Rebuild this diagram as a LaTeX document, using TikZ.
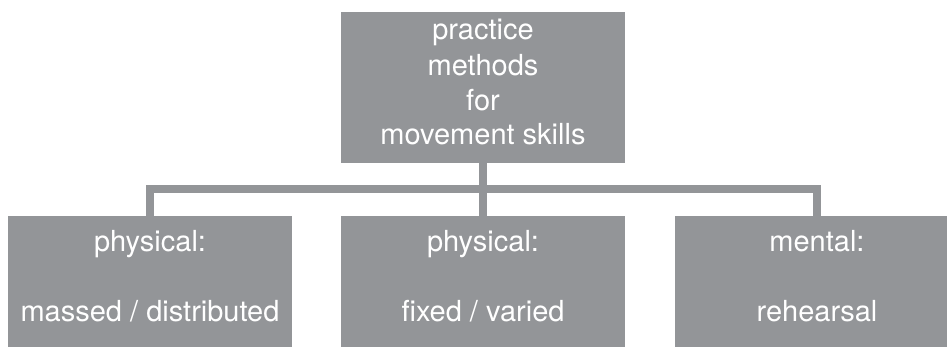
\documentclass[tikz,border=0pt]{standalone}
\usepackage{fontspec}
\setmainfont{TeX Gyre Heros}
\definecolor{boxgray}{HTML}{939598}
\tikzset{
  box/.style={fill=boxgray, draw=none, inner sep=0pt, minimum width=284pt},
  txt/.style={text=white, font=\fontsize{29}{35}\selectfont, inner sep=0pt, anchor=base},
  bar/.style={draw=boxgray, line width=8pt, line join=miter, line cap=butt}
}
\begin{document}
\begin{tikzpicture}[x=1pt,y=1pt]
\useasboundingbox (0,0) rectangle (947,-347);
\clip (0,0) rectangle (947,-347);
% boxes
\node[box, minimum height=150.7pt] (top) at (483,-87.35) {};
\node[box, minimum height=131pt] (left) at (150,-281.5) {};
\node[box, minimum height=131pt] (mid) at (483,-281.5) {};
\node[box, minimum height=131pt] (right) at (817,-281.5) {};
% connectors
\coordinate (bus) at (483,-189);
\draw[bar] (left.north) |- (bus) -| (right.north);
\draw[bar] (top.south) -- (mid.north);
% texts
\node[txt] (t1) at (483,-40) {practice};
\node[txt] (t2) at (483,-75.5) {methods};
\node[txt] (t3) at (483,-110.5) {for};
\node[txt] (t4) at (483,-144.5) {movement skills};
\node[txt] (l1) at (150,-251.7) {physical:};
\node[txt] (l2) at (150,-321.7) {massed / distributed};
\node[txt] (m1) at (483,-251.7) {physical:};
\node[txt] (m2) at (483,-321.7) {fixed / varied};
\node[txt] (r1) at (817,-251.7) {mental:};
\node[txt] (r2) at (817,-321.7) {rehearsal};
\end{tikzpicture}
\end{document}
